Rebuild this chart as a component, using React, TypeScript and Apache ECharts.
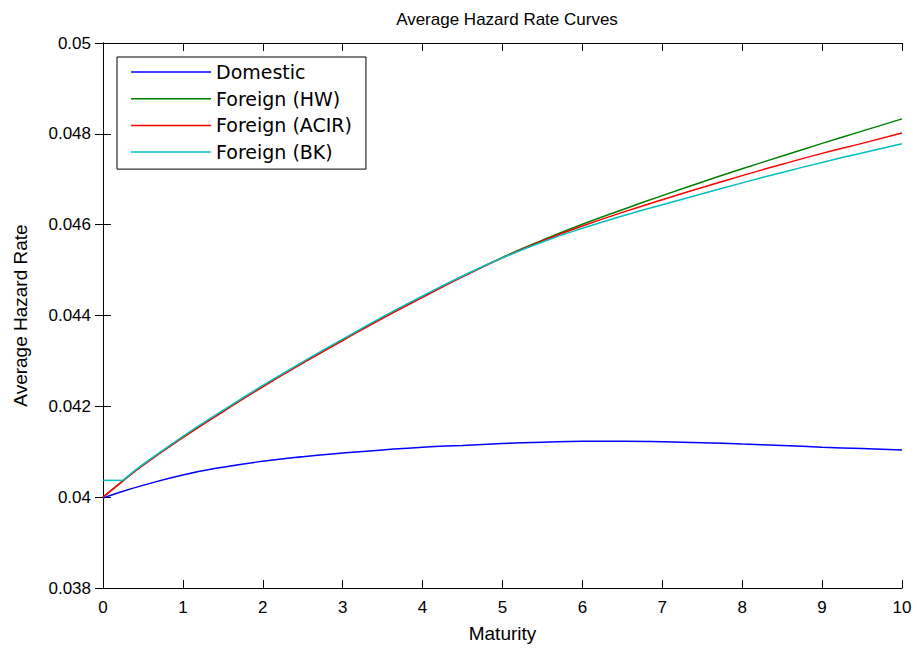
import React, { useEffect, useRef } from "react";
import * as echarts from "echarts";

const maturity = [0, 0.25, 0.5, 1, 1.5, 2, 2.5, 3, 3.5, 4, 4.5, 5, 5.5, 6, 6.5, 7, 7.5, 8, 8.5, 9, 9.5, 10];
const domestic = [0.03998, 0.04013, 0.04026, 0.04049, 0.04066, 0.04079, 0.04089, 0.04097, 0.04104, 0.0411, 0.04114, 0.04118, 0.04121, 0.04123, 0.04123, 0.04122, 0.0412, 0.04117, 0.04114, 0.0411, 0.04107, 0.04104];
const foreignHW = [0.04, 0.04036, 0.04071, 0.04132, 0.04189, 0.04244, 0.04296, 0.04346, 0.04395, 0.04441, 0.04486, 0.04528, 0.04566, 0.04601, 0.04633, 0.04664, 0.04694, 0.04723, 0.04751, 0.04779, 0.04806, 0.04833];
const foreignACIR = [0.04, 0.04036, 0.0407, 0.04131, 0.04188, 0.04243, 0.04295, 0.04345, 0.04394, 0.0444, 0.04485, 0.04527, 0.04564, 0.04597, 0.04627, 0.04655, 0.04682, 0.04708, 0.04733, 0.04757, 0.04779, 0.04802];
const foreignBK = [0.04037, 0.04037, 0.04072, 0.04134, 0.04191, 0.04246, 0.04298, 0.04348, 0.04397, 0.04443, 0.04487, 0.04527, 0.04562, 0.04592, 0.04619, 0.04644, 0.04668, 0.04692, 0.04715, 0.04737, 0.04758, 0.04778];
const xTicks = { min: 0, max: 10, interval: 1 };
const yTicks = { min: 0.038, max: 0.05, interval: 0.002 };

const FONT = "'Liberation Sans', Arial, Helvetica, sans-serif";
const LEGEND_FONT = "'DejaVu Sans', 'Liberation Sans', sans-serif";

export default function App() {
  const ref = useRef<HTMLDivElement>(null);
  useEffect(() => {
    if (!ref.current) return;
    const chart = echarts.init(ref.current, null, { renderer: "svg" });
    const pairs = (xs: number[], ys: number[]) => xs.map((m, i) => [m, ys[i]]);
    const axisLine = { show: true, lineStyle: { color: "#000", width: 1 } };
    const tick = { show: true, inside: true, length: 8, lineStyle: { color: "#000", width: 1 } };
    const mk = (name: string, data: number[][], color: string, smooth: number | boolean = 0.5) => ({
      name,
      type: "line",
      data,
      smooth,
      symbol: "none",
      showSymbol: false,
      lineStyle: { color, width: 1.5 },
      itemStyle: { color },
      emphasis: { disabled: true },
    });
    chart.setOption({
      animation: false,
      backgroundColor: "#fff",
      title: {
        text: "Average Hazard Rate Curves",
        left: 502,
        textAlign: "center",
        top: 6,
        textStyle: { fontFamily: FONT, fontSize: 17, fontWeight: "normal", color: "#000" },
      },
      grid: { left: 103, right: 15, top: 43, bottom: 60, containLabel: false },
      legend: {
        orient: "vertical",
        left: 117,
        top: 57,
        backgroundColor: "#fff",
        borderColor: "#000",
        borderWidth: 1,
        borderRadius: 0,
        padding: [5, 14, 7, 14],
        itemWidth: 80,
        itemHeight: 1.5,
        itemGap: 6.7,
        icon: "rect",
        textStyle: { fontFamily: LEGEND_FONT, fontSize: 19, color: "#000", lineHeight: 20 },
        data: [
          { name: "Domestic", itemStyle: { color: "#0000ff" } },
          { name: "Foreign (HW)", itemStyle: { color: "#008000" } },
          { name: "Foreign (ACIR)", itemStyle: { color: "#ff0000" } },
          { name: "Foreign (BK)", itemStyle: { color: "#00bfbf" } },
        ],
      },
      xAxis: [
        {
          type: "value",
          ...xTicks,
          name: "Maturity",
          nameLocation: "middle",
          nameGap: 36,
          nameTextStyle: { fontFamily: FONT, fontSize: 19, color: "#000" },
          axisLine,
          axisTick: tick,
          splitLine: { show: false },
          axisLabel: { fontFamily: FONT, fontSize: 17, color: "#000", margin: 11 },
        },
        {
          type: "value",
          ...xTicks,
          position: "top",
          axisLine,
          axisTick: tick,
          splitLine: { show: false },
          axisLabel: { show: false },
        },
      ],
      yAxis: [
        {
          type: "value",
          ...yTicks,
          name: "Average Hazard Rate",
          nameLocation: "middle",
          nameGap: 73,
          nameTextStyle: { fontFamily: FONT, fontSize: 19, color: "#000" },
          axisLine,
          axisTick: tick,
          splitLine: { show: false },
          axisLabel: {
            fontFamily: FONT,
            fontSize: 17,
            color: "#000",
            margin: 12,
            formatter: (v: number) => String(parseFloat(v.toFixed(3))),
          },
        },
        {
          type: "value",
          ...yTicks,
          position: "right",
          axisLine,
          axisTick: tick,
          splitLine: { show: false },
          axisLabel: { show: false },
        },
      ],
      series: [
        mk("Domestic", pairs(maturity, domestic), "#0000ff"),
        mk("Foreign (HW)", pairs(maturity, foreignHW), "#008000"),
        mk("Foreign (ACIR)", pairs(maturity, foreignACIR), "#ff0000"),
        mk("Foreign (BK)", pairs(maturity.slice(0, 2), foreignBK.slice(0, 2)), "#00bfbf", false),
        mk("Foreign (BK)", pairs(maturity.slice(1), foreignBK.slice(1)), "#00bfbf"),
      ],
    });
    return () => chart.dispose();
  }, []);
  return <div ref={ref} style={{ width: 917, height: 648, position: "absolute", left: 0, top: 0 }} />;
}
